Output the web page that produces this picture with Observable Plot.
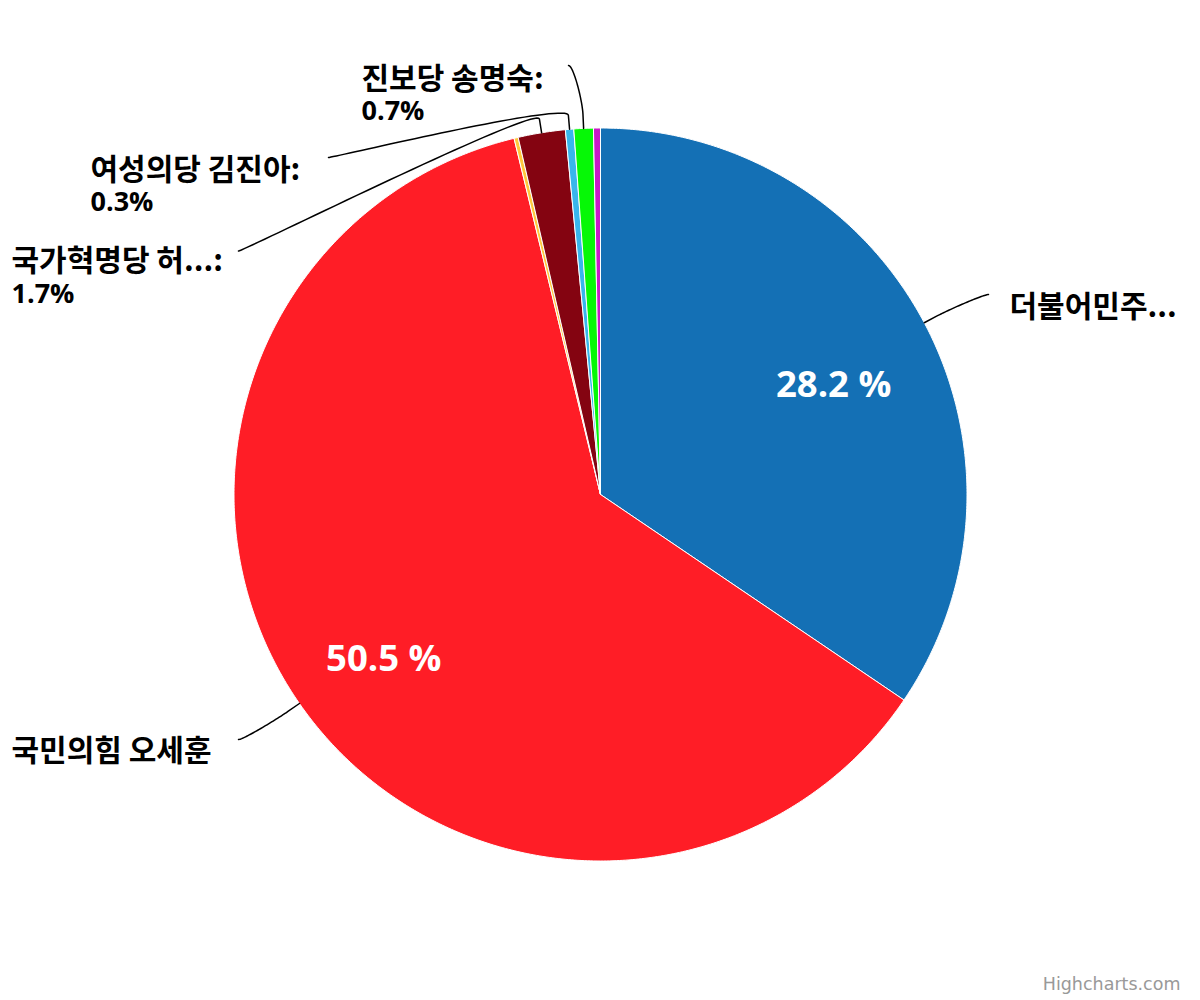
<!DOCTYPE html>
<html><head><meta charset="utf-8">
<script src="https://cdn.jsdelivr.net/npm/d3@7"></script>
<script src="https://cdn.jsdelivr.net/npm/@observablehq/plot@0.6"></script>
<style>
body{margin:0;background:#fff;}
#chart svg{display:block;}
</style></head><body><div id="chart"></div>
<script>
// ---- data ----
const names = ["더불어민주당 박영선", "국민의힘 오세훈", "기타 후보 1", "국가혁명당 허경영", "여성의당 김진아", "진보당 송명숙", "기타 후보 2"];
const shortNames = ["더불어민주...", "국민의힘 오세훈", "", "국가혁명당 허...", "여성의당 김진아", "진보당 송명숙", ""];
const values = [28.2, 50.5, 0.15, 1.7, 0.3, 0.7, 0.25];
const insideLabelIdx = [0, 1];
const outsideLabelIdx = [0, 1, 3, 4, 5];
const showValueOutside = [false, false, false, true, true, true, false];

// ---- styles / layout ----
const palette = ["#1470b5", "#ff1d26", "#ffc83c", "#840411", "#38b6ec", "#06f806", "#c81ac8"];
const cx = 600, cy = 494, R = 366.5;
const layout = {
  0: {end: [988, 294], tx: 1009, b1: 316},
  1: {end: [238, 739], tx: 11, b1: 760},
  3: {end: [238, 250.5], tx: 11, b1: 270.5, b2: 302},
  4: {end: [328, 157], tx: 90, b1: 179, b2: 210.5},
  5: {end: [568, 65], tx: 361, b1: 88, b2: 119.5}
};
const hangulFont = "'Noto Sans CJK KR', 'Open Sans', sans-serif";
const latinFont = "'Open Sans', 'Noto Sans CJK KR', sans-serif";

// ---- geometry from values ----
const arcs = d3.pie().sort(null).value(d => d)(values);
const pt = (a, r) => [cx + r * Math.sin(a), cy - r * Math.cos(a)];

const sliceMarks = arcs.map((a, i) => {
  const pts = [[cx, cy]];
  const n = Math.max(2, Math.ceil((a.endAngle - a.startAngle) / (Math.PI / 360)));
  for (let k = 0; k <= n; k++) pts.push(pt(a.startAngle + (a.endAngle - a.startAngle) * k / n, R));
  pts.push([cx, cy]);
  return Plot.line(pts, {x: d => d[0], y: d => d[1], fill: palette[i], stroke: "#ffffff", strokeWidth: 1, strokeLinejoin: "round", curve: "linear"});
});

const mid = a => (a.startAngle + a.endAngle) / 2;

const connectorMarks = outsideLabelIdx.map(i => {
  const a = mid(arcs[i]);
  const touch = pt(a, R);
  const brk = pt(a, R + 14);
  const L = layout[i].end;
  const right = L[0] > cx;
  const c1 = [L[0] + (right ? -5 : 5), L[1]];
  const c2 = [2 * brk[0] - touch[0], 2 * brk[1] - touch[1]];
  const pts = [];
  for (let k = 0; k <= 40; k++) {
    const t = k / 40, u = 1 - t;
    pts.push([
      u*u*u*L[0] + 3*u*u*t*c1[0] + 3*u*t*t*c2[0] + t*t*t*brk[0],
      u*u*u*L[1] + 3*u*u*t*c1[1] + 3*u*t*t*c2[1] + t*t*t*brk[1]
    ]);
  }
  pts.push(touch);
  return Plot.line(pts, {x: d => d[0], y: d => d[1], stroke: "#000000", strokeWidth: 1.5, curve: "linear"});
});

const nameRows = outsideLabelIdx.map(i => ({
  x: layout[i].tx, y: layout[i].b1,
  t: shortNames[i] + (showValueOutside[i] ? ":" : "")
}));
const valueRows = outsideLabelIdx.filter(i => showValueOutside[i]).map(i => ({
  x: layout[i].tx, y: layout[i].b2, t: values[i].toFixed(1) + "%"
}));
const insideRows = insideLabelIdx.map(i => {
  const p = pt(mid(arcs[i]), R * 0.72);
  return {x: p[0], y: p[1], t: values[i].toFixed(1) + " %"};
});

const chart = Plot.plot({
  width: 1200, height: 1000, margin: 0,
  style: {background: "#ffffff"},
  x: {domain: [0, 1200], range: [0, 1200], axis: null},
  y: {domain: [0, 1000], range: [0, 1000], axis: null},
  marks: [
    ...sliceMarks,
    ...connectorMarks,
    Plot.text(nameRows, {x: "x", y: "y", text: "t", textAnchor: "start", lineAnchor: "bottom", fontSize: 30, fontWeight: "bold", fill: "#000000", fontFamily: hangulFont}),
    Plot.text(valueRows, {x: "x", y: "y", text: "t", textAnchor: "start", lineAnchor: "bottom", fontSize: 27, fontWeight: "bold", fill: "#000000", fontFamily: latinFont}),
    Plot.text(insideRows, {x: "x", y: "y", text: "t", textAnchor: "middle", lineAnchor: "top", fontSize: 36.5, fontWeight: "bold", fill: "#ffffff", fontFamily: latinFont}),
    Plot.text([{x: 1180, y: 989, t: "Highcharts.com"}], {x: "x", y: "y", text: "t", textAnchor: "end", lineAnchor: "bottom", fontSize: 17.5, fill: "#999999", fontFamily: "'DejaVu Sans', sans-serif"})
  ]
});
document.getElementById("chart").appendChild(chart);
</script>
</body></html>
